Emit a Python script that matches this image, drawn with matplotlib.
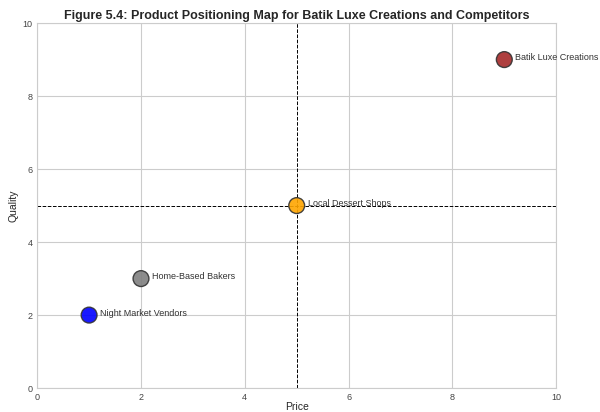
import matplotlib.pyplot as plt
import seaborn as sns

# positioning data
brands = ['Batik Luxe Creations', 'Local Dessert Shops', 'Home-Based Bakers', 'Night Market Vendors']
price = [9, 5, 2, 1]
quality = [9, 5, 3, 2]
colors = ['brown', 'orange', 'gray', 'blue']

sns.set_style('whitegrid')
plt.rcParams['font.family'] = ['Liberation Sans', 'DejaVu Sans']

fig = plt.figure(figsize=(6, 4.12), dpi=100)
ax = fig.add_axes([0.062, 0.058, 0.865, 0.886])

ax.scatter(price, quality, c=colors, s=130, edgecolors='#333333', linewidths=1.0, alpha=0.9, zorder=3)
for name, x, y in zip(brands, price, quality):
    ax.annotate(name, (x, y), xytext=(8, 1.5), textcoords='offset points',
                fontsize=6.5, color='#333333', va='center')

ax.axvline(5, color='black', linestyle='--', linewidth=0.7)
ax.axhline(5, color='black', linestyle='--', linewidth=0.7)

ax.set_xlim(0, 10)
ax.set_ylim(0, 10)
ax.tick_params(labelsize=6.5, colors='#444444', pad=0)
ax.set_xlabel('Price', fontsize=7.5, labelpad=0)
ax.set_ylabel('Quality', fontsize=7.5, labelpad=3)
ax.set_title('Figure 5.4: Product Positioning Map for Batik Luxe Creations and Competitors',
             fontsize=9, fontweight='bold', pad=3)

fig.savefig('out.png', dpi=100)
